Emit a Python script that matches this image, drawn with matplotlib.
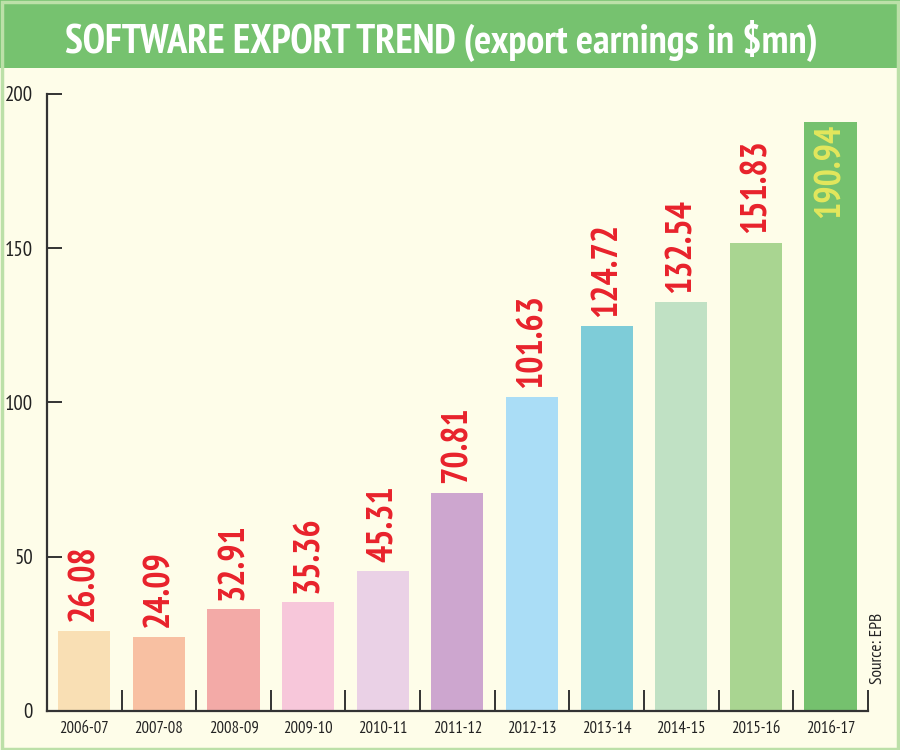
import matplotlib.pyplot as plt
from matplotlib.patches import Rectangle

years = ['2006-07', '2007-08', '2008-09', '2009-10', '2010-11', '2011-12',
         '2012-13', '2013-14', '2014-15', '2015-16', '2016-17']
earnings = [26.08, 24.09, 32.91, 35.36, 45.31, 70.81,
            101.63, 124.72, 132.54, 151.83, 190.94]
bar_colors = ['#F9DFB4', '#F8C0A2', '#F3AAA7', '#F7C7DA', '#EAD1E6', '#CDA6CF',
              '#AADDF6', '#7ECCD8', '#C0E1C4', '#A9D591', '#75C16E']

plt.rcParams['font.family'] = ['PT Sans Narrow', 'DejaVu Sans']

fig = plt.figure(figsize=(9, 7.5), dpi=100)
fig.patch.set_facecolor('#FEFDE9')

# header band + border
fig.patches.append(Rectangle((0, 0.909), 1, 0.091, transform=fig.transFigure,
                             facecolor='#76C26F', edgecolor='none', zorder=0))
fig.patches.append(Rectangle((0.002, 0.002), 0.996, 0.996, transform=fig.transFigure,
                             facecolor='none', edgecolor='#BCE0A8', lw=2.5, zorder=1))
fig.text(0.49, 0.946, 'SOFTWARE EXPORT TREND (export earnings in $mn)',
         color='white', fontsize=29, fontweight='bold', ha='center', va='center')

ax = fig.add_axes([0.0522, 0.052, 0.912, 0.8227])
ax.set_facecolor('none')
x = list(range(len(years)))
ax.bar(x, earnings, width=0.7, color=bar_colors)

for i, v in enumerate(earnings):
    if i == len(earnings) - 1:
        ax.text(i, v - 0.5, f'{v:.2f}', rotation=90, ha='center', va='top',
                color='#E3E75C', fontsize=26, fontweight='bold')
    else:
        ax.text(i, v + 3, f'{v:.2f}', rotation=90, ha='center', va='bottom',
                color='#E8222B', fontsize=26, fontweight='bold')

ax.set_xlim(-0.5, 10.5)
ax.set_ylim(0, 200)
ax.set_yticks([0, 50, 100, 150, 200])
ax.set_xticks(x)
ax.set_xticklabels(years, fontsize=12)
ax.set_xticks([i + 0.5 for i in x], minor=True)
ax.tick_params(axis='x', which='major', length=0, pad=7, labelcolor='#222222')
ax.tick_params(axis='x', which='minor', direction='in', length=15, width=1.4, color='#333333')
ax.tick_params(axis='y', direction='in', length=11, width=1.4, color='#333333',
               labelsize=15, pad=10, labelcolor='#222222')
for s in ['top', 'right']:
    ax.spines[s].set_visible(False)
for s in ['left', 'bottom']:
    ax.spines[s].set_color('#333333')
    ax.spines[s].set_linewidth(1.6)

fig.text(0.975, 0.136, 'Source: EPB', rotation=90, ha='center', va='center',
         fontsize=12.5, color='#222222')

fig.savefig('out.png', dpi=100, facecolor=fig.get_facecolor())
